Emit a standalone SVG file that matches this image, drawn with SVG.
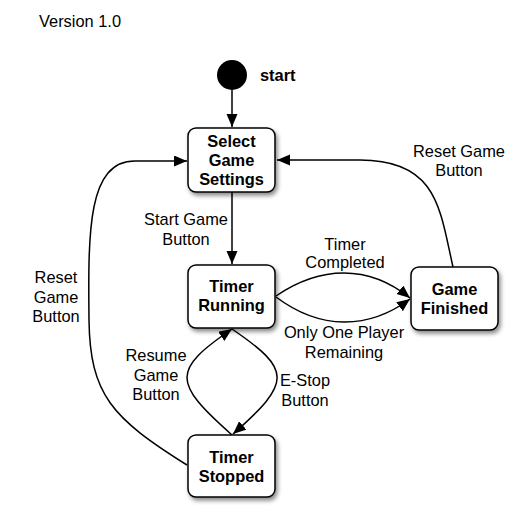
<svg xmlns="http://www.w3.org/2000/svg" width="524" height="531" viewBox="0 0 524 531">
<style>
.node rect{fill:#fff;stroke:#000;stroke-width:1.5;filter:url(#sh)}
.nt{font-family:"Liberation Sans",Arial,sans-serif;font-size:16.4px;font-weight:bold;text-anchor:middle;fill:#000}
.lb{font-family:"Liberation Sans",Arial,sans-serif;font-size:16.4px;text-anchor:middle;fill:#000}
.edge{fill:none;stroke:#000;stroke-width:1.5;marker-end:url(#arr)}
</style>
<defs>
<filter id="sh" x="-20%" y="-20%" width="140%" height="150%">
<feDropShadow dx="2" dy="3" stdDeviation="2" flood-color="#000" flood-opacity="0.45"/>
</filter>
<marker id="arr" markerUnits="userSpaceOnUse" markerWidth="14" markerHeight="12" refX="13" refY="5.5" orient="auto">
<path d="M0,0 L13,5.5 L0,11 Z" fill="#000"/>
</marker>
</defs>
<text x="39" y="27" class="lb" style="text-anchor:start">Version 1.0</text>
<g id="connectors">
<path class="edge" d="M232,90 L232,127"/>
<path class="edge" d="M232,192 L232,264"/>
<path class="edge" d="M276,296 C320,266 368,264 410,298"/>
<path class="edge" d="M276,297 C320,330 368,330 410,299"/>
<path class="edge" d="M453,267 C440,210 438,160 360,160 L277,160"/>
<path class="edge" d="M187,465 C112,418 90,395 89,320 C88,230 88,161 135,161 L187,161"/>
<path class="edge" d="M232,435 C172,382 172,370 232,329"/>
<path class="edge" d="M232,329 C292,370 292,382 233,434"/>
</g>
<g id="start">
<circle cx="232" cy="75" r="15" fill="#000"/>
<text x="260" y="81" class="nt" style="text-anchor:start">start</text>
</g>
<g id="select" class="node">
<rect x="188" y="128" width="87" height="64" rx="8"/>
<text class="nt" x="231.5" y="147">Select</text>
<text class="nt" x="231.5" y="166">Game</text>
<text class="nt" x="231.5" y="185">Settings</text>
</g>
<g id="running" class="node">
<rect x="188" y="265" width="87" height="63" rx="8"/>
<text class="nt" x="231.5" y="292">Timer</text>
<text class="nt" x="231.5" y="311">Running</text>
</g>
<g id="finished" class="node">
<rect x="411" y="267" width="87" height="63" rx="8"/>
<text class="nt" x="454.5" y="295">Game</text>
<text class="nt" x="454.5" y="314">Finished</text>
</g>
<g id="stopped" class="node">
<rect x="188" y="435" width="87" height="62" rx="8"/>
<text class="nt" x="231.5" y="463">Timer</text>
<text class="nt" x="231.5" y="482">Stopped</text>
</g>
<g id="labels">
<text class="lb" x="186" y="225">Start Game</text>
<text class="lb" x="186" y="245">Button</text>
<text class="lb" x="345" y="250">Timer</text>
<text class="lb" x="345" y="268">Completed</text>
<text class="lb" x="344" y="338">Only One Player</text>
<text class="lb" x="344" y="358">Remaining</text>
<text class="lb" x="459" y="157">Reset Game</text>
<text class="lb" x="459" y="176">Button</text>
<text class="lb" x="56" y="283">Reset</text>
<text class="lb" x="56" y="303">Game</text>
<text class="lb" x="56" y="322">Button</text>
<text class="lb" x="156" y="361">Resume</text>
<text class="lb" x="156" y="381">Game</text>
<text class="lb" x="156" y="400">Button</text>
<text class="lb" x="305" y="386">E-Stop</text>
<text class="lb" x="305" y="406">Button</text>
</g>
</svg>
